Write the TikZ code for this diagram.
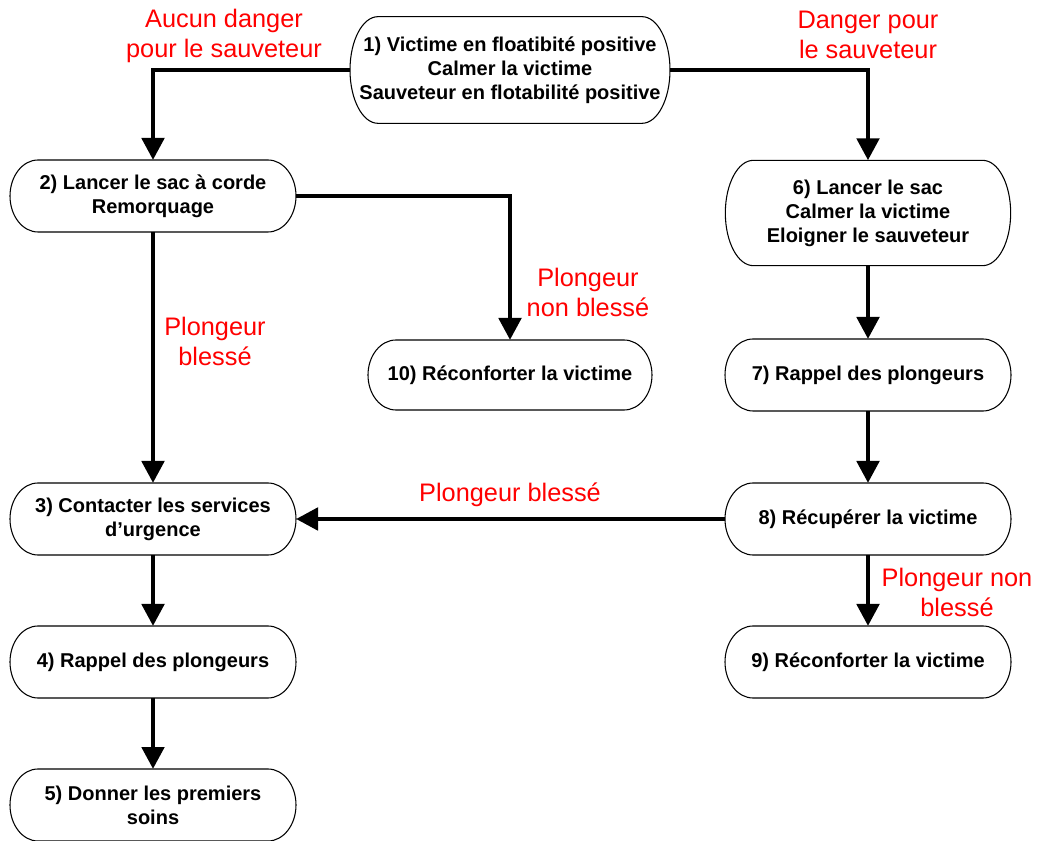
\documentclass[tikz,border=0pt]{standalone}
\usepackage{fontspec}
\setmainfont{Liberation Sans}
\usetikzlibrary{arrows.meta}
\tikzset{
  box/.style={shape=rectangle,inner sep=0pt,outer sep=0pt,align=center,
    font=\bfseries\fontsize{15}{18}\selectfont,minimum width=214.5pt,minimum height=54pt},
  bigbox/.style={box,minimum width=240pt,minimum height=80pt},
  tallbox/.style={box,minimum width=214pt,minimum height=79pt},
  boxline/.style={draw=black,line width=0.8pt},
  arr/.style={line width=3.7pt,-{Triangle[length=16.5pt,width=16.5pt]}},
  lbl/.style={text=red,align=center,font=\fontsize{19}{22.5}\selectfont,inner sep=0pt}
}
\newcommand\stad[2]{%
  \draw[boxline] ([xshift=21pt]#1.north west) -- ([xshift=-21pt]#1.north east)
    arc[start angle=90,end angle=-90,x radius=21pt,y radius=#2]
    -- ([xshift=21pt]#1.south west)
    arc[start angle=270,end angle=90,x radius=21pt,y radius=#2] -- cycle;}
\begin{document}
\begin{tikzpicture}[x=0.75pt,y=-0.75pt]
\useasboundingbox (0,0) rectangle (1040,841);
\node[bigbox] (n1) at (510,70) {1) Victime en floatibité positive\\Calmer la victime\\Sauveteur en flotabilité positive};
\node[box] (n2) at (153,196) {2) Lancer le sac à corde\\Remorquage};
\node[tallbox] (n6) at (868,213) {6) Lancer le sac\\Calmer la victime\\Eloigner le sauveteur};
\node[box,minimum width=213pt,minimum height=52.5pt] (n10) at (510,375) {10) Réconforter la victime};
\node[box] (n7) at (868,375) {7) Rappel des plongeurs};
\node[box] (n3) at (153,519) {3) Contacter les services\\d’urgence};
\node[box] (n8) at (868,519) {8) Récupérer la victime};
\node[box] (n4) at (153,662) {4) Rappel des plongeurs};
\node[box] (n9) at (868,662) {9) Réconforter la victime};
\node[box] (n5) at (153,805) {5) Donner les premiers\\soins};
\stad{n1}{40pt}
\stad{n2}{27pt}
\stad{n6}{39.5pt}
\stad{n10}{26.25pt}
\stad{n7}{27pt}
\stad{n3}{27pt}
\stad{n8}{27pt}
\stad{n4}{27pt}
\stad{n9}{27pt}
\stad{n5}{27pt}
\draw[arr] (n1.west) -| (n2.north);
\draw[arr] (n1.east) -| (n6.north);
\draw[arr] (n2.east) -| (n10.north);
\draw[arr] (n2.south) -- (n3.north);
\draw[arr] (n6.south) -- (n7.north);
\draw[arr] (n7.south) -- (n8.north);
\draw[arr] (n8.west) -- (n3.east);
\draw[arr] (n8.south) -- (n9.north);
\draw[arr] (n3.south) -- (n4.north);
\draw[arr] (n4.south) -- (n5.north);
\node[lbl] (l1) at (224,36) {Aucun danger\\pour le sauveteur};
\node[lbl] (l2) at (868,35) {Danger pour\\le sauveteur};
\node[lbl] (l3) at (588,292) {Plongeur\\non blessé};
\node[lbl] (l4) at (215,341) {Plongeur\\blessé};
\node[lbl] (l5) at (510,495) {Plongeur blessé};
\node[lbl] (l6) at (957,592) {Plongeur non\\blessé};
\end{tikzpicture}
\end{document}
